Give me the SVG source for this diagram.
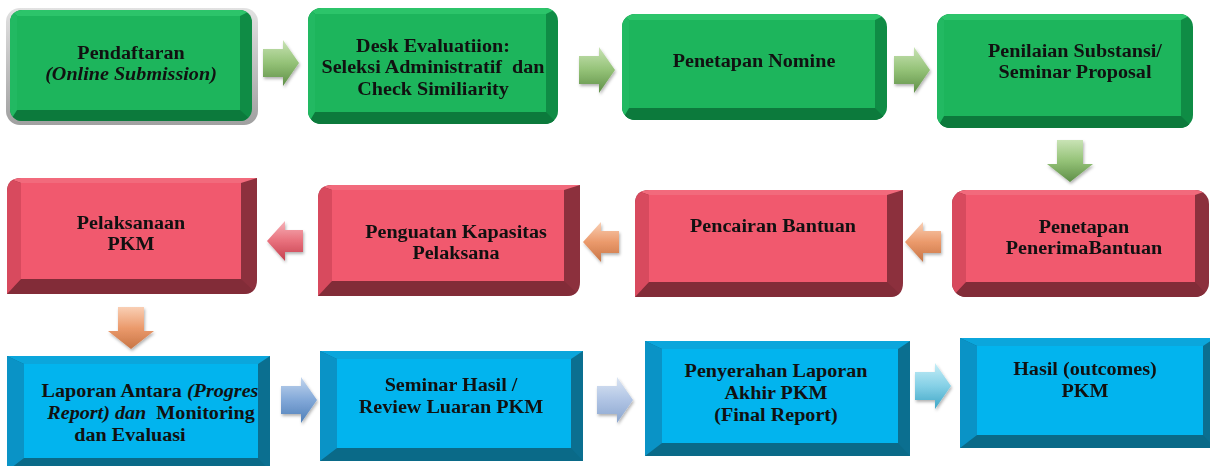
<svg xmlns="http://www.w3.org/2000/svg" width="1210" height="466" viewBox="0 0 1210 466">
<style>
.t{font-family:"Liberation Serif","Times New Roman",serif;font-weight:bold;font-size:19px;fill:#111;text-anchor:middle}
.i{font-style:italic}
.gD{fill:#0f8c45}.gB{fill:#0c7a3c}.gT{fill:#2cc46a}.gL{fill:#22b962}.gF{fill:#1db55c}
.rD{fill:#8c303d}.rB{fill:#822c38}.rT{fill:#f26a7c}.rL{fill:#d84a5e}.rF{fill:#f1596e}
.bD{fill:#0b6f90}.bB{fill:#0a6a88}.bT{fill:#0ba6dc}.bL{fill:#0a93c6}.bF{fill:#02b4ee}
</style>
<defs>
<linearGradient id="gg" x1="0" y1="0" x2="0" y2="1"><stop offset="0" stop-color="#c9e3b5"/><stop offset="0.5" stop-color="#94c277"/><stop offset="1" stop-color="#5f8f48"/></linearGradient>
<linearGradient id="gr" x1="0" y1="0" x2="0" y2="1"><stop offset="0" stop-color="#f6b2b8"/><stop offset="0.5" stop-color="#e8707c"/><stop offset="1" stop-color="#c5404f"/></linearGradient>
<linearGradient id="go" x1="0" y1="0" x2="0" y2="1"><stop offset="0" stop-color="#f9cfb4"/><stop offset="0.5" stop-color="#eb9a6c"/><stop offset="1" stop-color="#c87545"/></linearGradient>
<linearGradient id="gb" x1="0" y1="0" x2="0" y2="1"><stop offset="0" stop-color="#c3d6ee"/><stop offset="0.5" stop-color="#82a8d8"/><stop offset="1" stop-color="#4f7fb8"/></linearGradient>
<linearGradient id="gl" x1="0" y1="0" x2="0" y2="1"><stop offset="0" stop-color="#dbe5f3"/><stop offset="0.5" stop-color="#b0c4e4"/><stop offset="1" stop-color="#8ba6cf"/></linearGradient>
<linearGradient id="gc" x1="0" y1="0" x2="0" y2="1"><stop offset="0" stop-color="#c6eef7"/><stop offset="0.5" stop-color="#85d0e6"/><stop offset="1" stop-color="#3fa6c6"/></linearGradient>
<linearGradient id="shd" x1="0" y1="0" x2="0" y2="1"><stop offset="0" stop-color="#e2e2e2"/><stop offset="1" stop-color="#a0a0a0"/></linearGradient>
<filter id="ds" x="-30%" y="-30%" width="160%" height="160%"><feDropShadow dx="1" dy="2" stdDeviation="1.5" flood-color="#000" flood-opacity="0.3"/></filter>
<path id="aR" d="M0,-14 H20 V-23 L36,0 L20,23 V14 H0 Z"/>
<path id="aL" d="M36,-11 H18 V-20 L0,0 L18,20 V11 H36 Z"/>
<path id="aD" d="M-13,0 H13 V24 H23 L0,42 L-23,24 H-13 Z"/>
<clipPath id="c1"><rect x="10" y="10" width="242" height="111" rx="12"/></clipPath>
<clipPath id="c2"><rect x="308" y="8" width="250" height="116" rx="13"/></clipPath>
<clipPath id="c3"><rect x="622" y="14" width="265" height="106" rx="13"/></clipPath>
<clipPath id="c4"><rect x="937" y="14" width="256" height="114" rx="13"/></clipPath>
<clipPath id="c5"><path d="M21,178 H257 V280 Q257,294 243,294 H7 V192 Q7,178 21,178 Z"/></clipPath>
<clipPath id="c6"><path d="M332,185 H580 V282 Q580,296 566,296 H318 V199 Q318,185 332,185 Z"/></clipPath>
<clipPath id="c7"><path d="M649,190 H903 V283 Q903,297 889,297 H635 V204 Q635,190 649,190 Z"/></clipPath>
<clipPath id="c8"><rect x="952" y="190" width="257" height="107" rx="14"/></clipPath>
</defs>

<g id="connectors" filter="url(#ds)">
<use href="#aR" x="263" y="63" fill="url(#gg)"/>
<use href="#aR" x="579" y="70" fill="url(#gg)"/>
<use href="#aR" x="894" y="70" fill="url(#gg)"/>
<use href="#aD" x="1070" y="140" fill="url(#gg)"/>
<use href="#aL" x="905" y="242" fill="url(#go)"/>
<use href="#aL" x="583" y="242" fill="url(#go)"/>
<use href="#aL" x="267" y="241" fill="url(#gr)"/>
<use href="#aD" x="131" y="307" fill="url(#go)"/>
<use href="#aR" x="281" y="400" fill="url(#gb)"/>
<use href="#aR" x="597" y="400" fill="url(#gl)"/>
<use href="#aR" x="915" y="386" fill="url(#gc)"/>
</g>

<g id="n1">
<rect x="6" y="8" width="252" height="117" rx="14" fill="url(#shd)"/>
<g clip-path="url(#c1)">
<rect class="gD" x="10" y="10" width="242" height="111"/>
<polygon class="gB" points="10,121 17,110 240,110 252,121"/>
<polygon class="gT" points="10,10 252,10 240,16 17,16"/>
<polygon class="gL" points="10,10 17,16 17,110 10,121"/>
<rect class="gF" x="17" y="16" width="223" height="94"/>
</g>
<text class="t" transform="translate(131,0) scale(1.06,1)"><tspan x="0" y="59">Pendaftaran</tspan><tspan class="i" x="0" y="80">(Online Submission)</tspan></text>
</g>

<g id="n2">
<g clip-path="url(#c2)">
<rect class="gD" x="308" y="8" width="250" height="116"/>
<polygon class="gB" points="308,124 315,112 546,112 558,124"/>
<polygon class="gT" points="308,8 558,8 546,14 315,14"/>
<polygon class="gL" points="308,8 315,14 315,112 308,124"/>
<rect class="gF" x="315" y="14" width="231" height="98"/>
</g>
<text class="t" transform="translate(433,0) scale(1.06,1)"><tspan x="0" y="52">Desk Evaluatiion:</tspan><tspan x="0" y="73.5">Seleksi Administratif &#160;dan</tspan><tspan x="0" y="95">Check Similiarity</tspan></text>
</g>

<g id="n3">
<g clip-path="url(#c3)">
<rect class="gD" x="622" y="14" width="265" height="106"/>
<polygon class="gB" points="622,120 629,108 875,108 887,120"/>
<polygon class="gT" points="622,14 887,14 875,20 629,20"/>
<polygon class="gL" points="622,14 629,20 629,108 622,120"/>
<rect class="gF" x="629" y="20" width="246" height="88"/>
</g>
<text class="t" transform="translate(754,0) scale(1.06,1)"><tspan x="0" y="67">Penetapan Nomine</tspan></text>
</g>

<g id="n4">
<g clip-path="url(#c4)">
<rect class="gD" x="937" y="14" width="256" height="114"/>
<polygon class="gB" points="937,128 944,116 1181,116 1193,128"/>
<polygon class="gT" points="937,14 1193,14 1181,20 944,20"/>
<polygon class="gL" points="937,14 944,20 944,116 937,128"/>
<rect class="gF" x="944" y="20" width="237" height="96"/>
</g>
<text class="t" transform="translate(1075,0) scale(1.06,1)"><tspan x="0" y="57">Penilaian Substansi/</tspan><tspan x="0" y="78.5">Seminar Proposal</tspan></text>
</g>

<g id="n5">
<g clip-path="url(#c5)">
<rect class="rD" x="7" y="178" width="250" height="116"/>
<polygon class="rB" points="7,294 21,279 241,279 257,294"/>
<polygon class="rT" points="7,178 257,178 241,183 21,183"/>
<polygon class="rL" points="7,178 21,183 21,279 7,294"/>
<rect class="rF" x="21" y="183" width="220" height="96"/>
</g>
<text class="t" transform="translate(131,0) scale(1.06,1)"><tspan x="0" y="229">Pelaksanaan</tspan><tspan x="0" y="250.5">PKM</tspan></text>
</g>

<g id="n6">
<g clip-path="url(#c6)">
<rect class="rD" x="318" y="185" width="262" height="111"/>
<polygon class="rB" points="318,296 332,281 564,281 580,296"/>
<polygon class="rT" points="318,185 580,185 564,190 332,190"/>
<polygon class="rL" points="318,185 332,190 332,281 318,296"/>
<rect class="rF" x="332" y="190" width="232" height="91"/>
</g>
<text class="t" transform="translate(456,0) scale(1.06,1)"><tspan x="0" y="238">Penguatan Kapasitas</tspan><tspan x="0" y="259.5">Pelaksana</tspan></text>
</g>

<g id="n7">
<g clip-path="url(#c7)">
<rect class="rD" x="635" y="190" width="268" height="107"/>
<polygon class="rB" points="635,297 649,282 887,282 903,297"/>
<polygon class="rT" points="635,190 903,190 887,195 649,195"/>
<polygon class="rL" points="635,190 649,195 649,282 635,297"/>
<rect class="rF" x="649" y="195" width="238" height="87"/>
</g>
<text class="t" transform="translate(773,0) scale(1.06,1)"><tspan x="0" y="232">Pencairan Bantuan</tspan></text>
</g>

<g id="n8">
<g clip-path="url(#c8)">
<rect class="rD" x="952" y="190" width="257" height="107"/>
<polygon class="rB" points="952,297 966,282 1195,282 1209,297"/>
<polygon class="rT" points="952,190 1209,190 1195,195 966,195"/>
<polygon class="rL" points="952,190 966,195 966,282 952,297"/>
<rect class="rF" x="966" y="195" width="229" height="87"/>
</g>
<text class="t" transform="translate(1084,0) scale(1.06,1)"><tspan x="0" y="233">Penetapan</tspan><tspan x="0" y="254.5">PenerimaBantuan</tspan></text>
</g>

<g id="n9">
<rect class="bD" x="7" y="356" width="263" height="115"/>
<polygon class="bB" points="7,471 24,458 258,458 270,471"/>
<polygon class="bT" points="7,356 270,356 258,364 24,364"/>
<polygon class="bL" points="7,356 24,364 24,458 7,471"/>
<rect class="bF" x="24" y="364" width="234" height="94"/>
<text class="t" transform="translate(150,0) scale(1.06,1)"><tspan x="0" y="397">Laporan Antara <tspan class="i">(Progres</tspan></tspan></text>
<text class="t" transform="translate(151,0) scale(1.06,1)"><tspan x="0" y="419"><tspan class="i">Report) dan</tspan>&#160; Monitoring</tspan></text>
<text class="t" transform="translate(130,0) scale(1.06,1)"><tspan x="0" y="441">dan Evaluasi</tspan></text>
</g>

<g id="n10">
<rect class="bD" x="320" y="351" width="263" height="110"/>
<polygon class="bB" points="320,461 337,448 571,448 583,461"/>
<polygon class="bT" points="320,351 583,351 571,359 337,359"/>
<polygon class="bL" points="320,351 337,359 337,448 320,461"/>
<rect class="bF" x="337" y="359" width="234" height="89"/>
<text class="t" transform="translate(451,0) scale(1.06,1)"><tspan x="0" y="391">Seminar Hasil /</tspan><tspan x="0" y="413">Review Luaran PKM</tspan></text>
</g>

<g id="n11">
<rect class="bD" x="645" y="341" width="265" height="115"/>
<polygon class="bB" points="645,456 662,443 898,443 910,456"/>
<polygon class="bT" points="645,341 910,341 898,349 662,349"/>
<polygon class="bL" points="645,341 662,349 662,443 645,456"/>
<rect class="bF" x="662" y="349" width="236" height="94"/>
<text class="t" transform="translate(776,0) scale(1.06,1)"><tspan x="0" y="377">Penyerahan Laporan</tspan><tspan x="0" y="399">Akhir PKM</tspan><tspan x="0" y="421">(Final Report)</tspan></text>
</g>

<g id="n12">
<rect class="bD" x="960" y="338" width="255" height="110"/>
<polygon class="bB" points="960,448 977,435 1203,435 1215,448"/>
<polygon class="bT" points="960,338 1215,338 1203,346 977,346"/>
<polygon class="bL" points="960,338 977,346 977,435 960,448"/>
<rect class="bF" x="977" y="346" width="226" height="89"/>
<text class="t" transform="translate(1085,0) scale(1.06,1)"><tspan x="0" y="375">Hasil (outcomes)</tspan><tspan x="0" y="397">PKM</tspan></text>
</g>
</svg>
